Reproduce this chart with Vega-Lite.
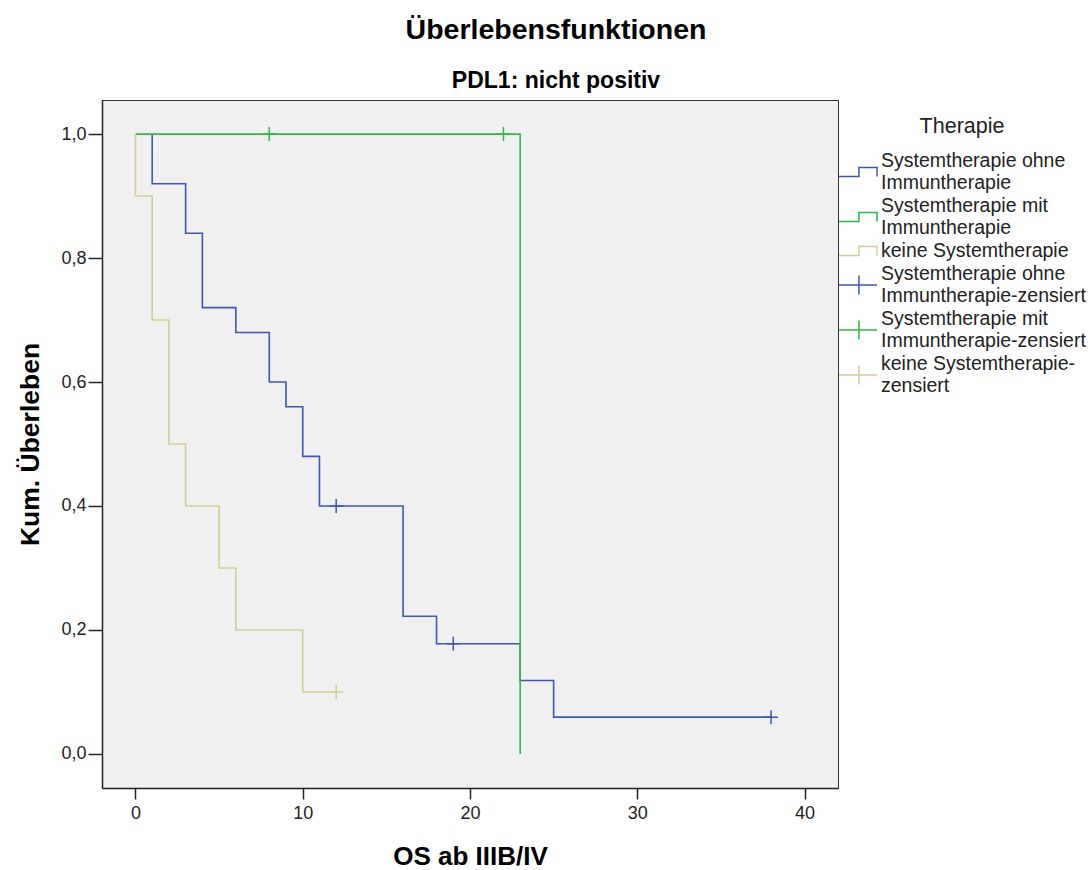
{
  "$schema": "https://vega.github.io/schema/vega-lite/v6.json",
  "width": 736,
  "height": 688,
  "autosize": {"type": "none"},
  "padding": {"left": 102, "top": 100, "right": 250, "bottom": 82},
  "background": "white",
  "config": {
    "font": "Liberation Sans",
    "view": {"fill": "#f0f0f0", "stroke": "#333333", "strokeWidth": 1}
  },
  "title": {
    "text": "Überlebensfunktionen",
    "subtitle": "PDL1: nicht positiv",
    "anchor": "middle",
    "frame": "group",
    "dx": 86,
    "offset": 7,
    "fontSize": 28.5,
    "fontWeight": "bold",
    "color": "#000000",
    "subtitleFontSize": 23,
    "subtitleFontWeight": "bold",
    "subtitleColor": "#000000",
    "subtitlePadding": 26
  },
  "datasets": {
    "kurven": [
      {"Kurve": "Systemtherapie ohne Immuntherapie", "t": 1, "s": 1.0, "i": 1},
      {"Kurve": "Systemtherapie ohne Immuntherapie", "t": 1, "s": 0.92, "i": 2},
      {"Kurve": "Systemtherapie ohne Immuntherapie", "t": 3, "s": 0.84, "i": 3},
      {"Kurve": "Systemtherapie ohne Immuntherapie", "t": 4, "s": 0.72, "i": 4},
      {"Kurve": "Systemtherapie ohne Immuntherapie", "t": 6, "s": 0.68, "i": 5},
      {"Kurve": "Systemtherapie ohne Immuntherapie", "t": 8, "s": 0.60, "i": 6},
      {"Kurve": "Systemtherapie ohne Immuntherapie", "t": 9, "s": 0.56, "i": 7},
      {"Kurve": "Systemtherapie ohne Immuntherapie", "t": 10, "s": 0.48, "i": 8},
      {"Kurve": "Systemtherapie ohne Immuntherapie", "t": 11, "s": 0.40, "i": 9},
      {"Kurve": "Systemtherapie ohne Immuntherapie", "t": 16, "s": 0.2222, "i": 10},
      {"Kurve": "Systemtherapie ohne Immuntherapie", "t": 18, "s": 0.1778, "i": 11},
      {"Kurve": "Systemtherapie ohne Immuntherapie", "t": 23, "s": 0.1185, "i": 12},
      {"Kurve": "Systemtherapie ohne Immuntherapie", "t": 25, "s": 0.0593, "i": 13},
      {"Kurve": "Systemtherapie ohne Immuntherapie", "t": 38, "s": 0.0593, "i": 14},
      {"Kurve": "Systemtherapie mit Immuntherapie", "t": 0, "s": 1.0, "i": 1},
      {"Kurve": "Systemtherapie mit Immuntherapie", "t": 23, "s": 1.0, "i": 2},
      {"Kurve": "Systemtherapie mit Immuntherapie", "t": 23, "s": 0.0, "i": 3},
      {"Kurve": "keine Systemtherapie", "t": 0, "s": 1.0, "i": 1},
      {"Kurve": "keine Systemtherapie", "t": 0, "s": 0.9, "i": 2},
      {"Kurve": "keine Systemtherapie", "t": 1, "s": 0.7, "i": 3},
      {"Kurve": "keine Systemtherapie", "t": 2, "s": 0.5, "i": 4},
      {"Kurve": "keine Systemtherapie", "t": 3, "s": 0.4, "i": 5},
      {"Kurve": "keine Systemtherapie", "t": 5, "s": 0.3, "i": 6},
      {"Kurve": "keine Systemtherapie", "t": 6, "s": 0.2, "i": 7},
      {"Kurve": "keine Systemtherapie", "t": 10, "s": 0.1, "i": 8},
      {"Kurve": "keine Systemtherapie", "t": 12, "s": 0.1, "i": 9}
    ],
    "zensiert": [
      {"Kurve": "Systemtherapie ohne Immuntherapie-zensiert", "t": 12, "s": 0.40},
      {"Kurve": "Systemtherapie ohne Immuntherapie-zensiert", "t": 19, "s": 0.1778},
      {"Kurve": "Systemtherapie ohne Immuntherapie-zensiert", "t": 38, "s": 0.0593},
      {"Kurve": "Systemtherapie mit Immuntherapie-zensiert", "t": 8, "s": 1.0},
      {"Kurve": "Systemtherapie mit Immuntherapie-zensiert", "t": 22, "s": 1.0},
      {"Kurve": "keine Systemtherapie-zensiert", "t": 12, "s": 0.1}
    ]
  },
  "layer": [
    {
      "data": {"name": "kurven"},
      "mark": {"type": "line", "interpolate": "step-after", "strokeWidth": 1.6},
      "encoding": {
        "x": {"field": "t", "type": "quantitative"},
        "y": {"field": "s", "type": "quantitative"},
        "color": {"field": "Kurve", "type": "nominal"},
        "order": {"field": "i", "type": "quantitative"}
      }
    },
    {
      "data": {"name": "zensiert"},
      "mark": {"type": "point", "shape": "M-1,0H1M0,-1V1", "size": 196, "filled": false, "strokeWidth": 1.5, "opacity": 1},
      "encoding": {
        "x": {"field": "t", "type": "quantitative"},
        "y": {"field": "s", "type": "quantitative"},
        "color": {"field": "Kurve", "type": "nominal"}
      }
    }
  ],
  "encoding": {
    "x": {
      "field": "t",
      "type": "quantitative",
      "title": "OS ab IIIB/IV",
      "scale": {"domain": [-2, 42], "nice": false, "zero": false},
      "axis": {
        "values": [0, 10, 20, 30, 40],
        "grid": false,
        "tickSize": 11,
        "labelPadding": 5,
        "labelFontSize": 18,
        "labelColor": "#222222",
        "titleFontSize": 26,
        "titleFontWeight": "bold",
        "titleColor": "#000000",
        "titlePadding": 21,
        "domainColor": "#222222",
        "domainWidth": 1.5,
        "tickColor": "#222222",
        "tickWidth": 1.5
      }
    },
    "y": {
      "field": "s",
      "type": "quantitative",
      "title": "Kum. Überleben",
      "scale": {"domain": [-0.055, 1.055], "nice": false, "zero": false},
      "axis": {
        "values": [0, 0.2, 0.4, 0.6, 0.8, 1.0],
        "labelExpr": "replace(format(datum.value, '.1f'), '.', ',')",
        "grid": false,
        "tickSize": 14,
        "labelPadding": 2,
        "labelFontSize": 18,
        "labelColor": "#222222",
        "titleFontSize": 26.5,
        "titleFontWeight": "bold",
        "titleColor": "#000000",
        "titlePadding": 16,
        "domainColor": "#222222",
        "domainWidth": 1.5,
        "tickColor": "#222222",
        "tickWidth": 1.5
      }
    },
    "color": {
      "field": "Kurve",
      "type": "nominal",
      "scale": {
        "domain": [
          "Systemtherapie ohne Immuntherapie",
          "Systemtherapie mit Immuntherapie",
          "keine Systemtherapie",
          "Systemtherapie ohne Immuntherapie-zensiert",
          "Systemtherapie mit Immuntherapie-zensiert",
          "keine Systemtherapie-zensiert"
        ],
        "range": ["#3e58ac", "#2eb848", "#d3ce97", "#3e58ac", "#2eb848", "#d3ce97"]
      },
      "legend": {
        "title": "Therapie",
        "orient": "none",
        "legendX": 736,
        "legendY": 16,
        "padding": 0,
        "titleFontSize": 21.5,
        "titleFontWeight": "normal",
        "titleColor": "#222222",
        "titleAnchor": "middle",
        "titlePadding": 24,
        "labelFontSize": 19.5,
        "labelColor": "#222222",
        "labelOffset": 22,
        "labelLimit": 400,
        "rowPadding": 3,
        "symbolSize": 361,
        "symbolStrokeWidth": 1.5,
        "symbolOffset": 0,
        "labelExpr": "datum.label == 'keine Systemtherapie' ? datum.label : datum.label == 'keine Systemtherapie-zensiert' ? ['keine Systemtherapie-', 'zensiert'] : [substring(datum.label, 0, indexof(datum.label, ' Immun')), substring(datum.label, indexof(datum.label, ' Immun') + 1)]",
        "encode": {
          "symbols": {
            "update": {
              "shape": {"signal": "indexof(datum.value, 'zensiert') >= 0 ? 'M-1,0H3M1.1,-1V1' : 'M-1,0.48H1.1V-0.48H3V0.48'"},
              "fill": {"value": "transparent"},
              "strokeWidth": {"value": 1.5}
            }
          },
          "labels": {
            "update": {
              "lineHeight": {"value": 22},
              "dy": {"signal": "datum.value == 'keine Systemtherapie' ? 0 : -11"}
            }
          }
        }
      }
    }
  }
}
